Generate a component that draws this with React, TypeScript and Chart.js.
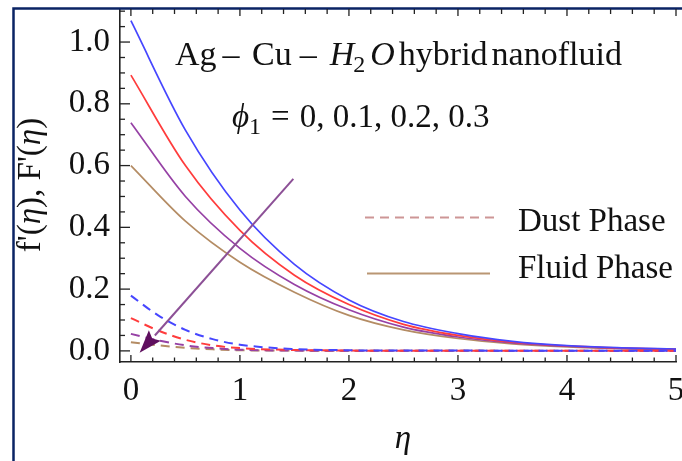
import React, { useEffect, useRef } from 'react';
import { Chart, registerables } from 'chart.js';

Chart.register(...registerables);

// ---- data ----
const etaFluid = [0, 0.5, 1, 1.5, 2, 2.5, 3, 3.5, 4, 4.5, 5];
const fluidPhi0 = [1.069, 0.715, 0.456, 0.28, 0.165, 0.095, 0.056, 0.031, 0.017, 0.01, 0.006];
const fluidPhi01 = [0.893, 0.6, 0.39, 0.245, 0.15, 0.086, 0.05, 0.028, 0.016, 0.009, 0.005];
const fluidPhi02 = [0.739, 0.5, 0.332, 0.215, 0.133, 0.077, 0.045, 0.026, 0.015, 0.008, 0.005];
const fluidPhi03 = [0.6, 0.42, 0.287, 0.19, 0.115, 0.068, 0.04, 0.023, 0.013, 0.007, 0.004];

const etaDust = [0, 0.25, 0.5, 0.75, 1, 1.5, 2, 2.5, 3, 3.5, 4, 4.5, 5];
const dustPhi0 = [0.179, 0.115, 0.068, 0.038, 0.02, 0.006, 0.002, 0.001, 0.001, 0.0005, 0.0003, 0.0002, 0.0001];
const dustPhi01 = [0.106, 0.066, 0.036, 0.018, 0.009, 0.003, 0.001, 0.0005, 0.0003, 0.0002, 0.0001, 0.0001, 0.0001];
const dustPhi02 = [0.055, 0.034, 0.018, 0.009, 0.004, 0.001, 0.0005, 0.0002, 0.0001, 0.0001, 0.0001, 0.0, 0.0];
const dustPhi03 = [0.028, 0.018, 0.01, 0.005, 0.002, 0.001, 0.0003, 0.0001, 0.0001, 0.0, 0.0, 0.0, 0.0];

const phiLabels = ['0', '0.1', '0.2', '0.3'];
const seriesColors = ['rgb(70,70,255)', 'rgb(255,60,60)', 'rgb(150,65,165)', 'rgb(180,140,100)'];

const xTicks = [0, 1, 2, 3, 4, 5];
const yTicks = [0, 0.2, 0.4, 0.6, 0.8, 1.0];

const arrowFrom = [1.49, 0.557];
const arrowTo = [0.08, -0.006];

const legendLabels = ['Dust Phase', 'Fluid Phase'];

const SERIF = '"Liberation Serif", "Times New Roman", serif';

type Seg = { t: string; italic?: boolean; size?: number; dy?: number; gap?: number };

function drawSegs(ctx: CanvasRenderingContext2D, segs: Seg[], x: number, y: number, base: number) {
  let cx = x;
  for (const s of segs) {
    ctx.font = `${s.italic ? 'italic ' : ''}${s.size ?? base}px ${SERIF}`;
    ctx.fillText(s.t, cx, y + (s.dy ?? 0));
    cx += ctx.measureText(s.t).width + (s.gap ?? 0);
  }
  return cx - x;
}

function measureSegs(ctx: CanvasRenderingContext2D, segs: Seg[], base: number) {
  let w = 0;
  for (const s of segs) {
    ctx.font = `${s.italic ? 'italic ' : ''}${s.size ?? base}px ${SERIF}`;
    w += ctx.measureText(s.t).width + (s.gap ?? 0);
  }
  return w;
}

const decor = {
  id: 'decor',
  afterDraw(chart: any) {
    const ctx: CanvasRenderingContext2D = chart.ctx;
    const xs = chart.scales.x;
    const ys = chart.scales.y;
    const { left, top, bottom } = chart.chartArea;
    ctx.save();

    // outer navy frame
    ctx.strokeStyle = 'rgb(10,35,100)';
    ctx.lineWidth = 2.5;
    ctx.beginPath();
    ctx.moveTo(13.5, 461);
    ctx.lineTo(13.5, 8.5);
    ctx.lineTo(682, 8.5);
    ctx.stroke();

    // inward ticks
    ctx.strokeStyle = '#222';
    ctx.lineWidth = 1.3;
    for (let i = 0; i <= 22; i++) {
      const y = ys.getPixelForValue(i * 0.05);
      const major = i % 4 === 0;
      ctx.beginPath();
      ctx.moveTo(left, y);
      ctx.lineTo(left + (major ? 10 : 5), y);
      ctx.stroke();
    }
    for (let i = 0; i <= 25; i++) {
      const x = xs.getPixelForValue(i * 0.2);
      const major = i % 5 === 0;
      ctx.beginPath();
      ctx.moveTo(x, bottom);
      ctx.lineTo(x, bottom - (major ? 7 : 4.5));
      ctx.moveTo(x, top);
      ctx.lineTo(x, top + (major ? 7 : 5));
      ctx.stroke();
    }

    // arrow
    const x1 = xs.getPixelForValue(arrowFrom[0]);
    const y1 = ys.getPixelForValue(arrowFrom[1]);
    const x2 = xs.getPixelForValue(arrowTo[0]);
    const y2 = ys.getPixelForValue(arrowTo[1]);
    const ang = Math.atan2(y2 - y1, x2 - x1);
    const hl = 23, hw = 8;
    const bx = x2 - hl * Math.cos(ang);
    const by = y2 - hl * Math.sin(ang);
    ctx.strokeStyle = 'rgb(140,80,150)';
    ctx.lineWidth = 2;
    ctx.beginPath();
    ctx.moveTo(x1, y1);
    ctx.lineTo(bx, by);
    ctx.stroke();
    ctx.fillStyle = 'rgb(95,15,95)';
    ctx.beginPath();
    ctx.moveTo(x2, y2);
    ctx.lineTo(bx + hw * Math.sin(ang), by - hw * Math.cos(ang));
    ctx.lineTo(bx + 4 * Math.cos(ang), by + 4 * Math.sin(ang));
    ctx.lineTo(bx - hw * Math.sin(ang), by + hw * Math.cos(ang));
    ctx.closePath();
    ctx.fill();

    // legend
    ctx.lineWidth = 2.2;
    ctx.strokeStyle = 'rgb(205,150,150)';
    ctx.setLineDash([9, 6]);
    ctx.beginPath();
    ctx.moveTo(365, 217.5);
    ctx.lineTo(497, 217.5);
    ctx.stroke();
    ctx.setLineDash([]);
    ctx.strokeStyle = 'rgb(185,150,115)';
    ctx.beginPath();
    ctx.moveTo(367, 273.5);
    ctx.lineTo(490, 273.5);
    ctx.stroke();

    ctx.fillStyle = '#111';
    ctx.textAlign = 'left';
    ctx.textBaseline = 'alphabetic';
    ctx.font = `33px ${SERIF}`;
    ctx.fillText(legendLabels[0], 518, 231);
    ctx.fillText(legendLabels[1], 518, 278);

    // annotation line 1
    drawSegs(
      ctx,
      [
        { t: 'Ag', gap: 6 },
        { t: '–', gap: 12.5 },
        { t: 'Cu', gap: 8 },
        { t: '–', gap: 13 },
        { t: 'H', italic: true, gap: -1 },
        { t: '2', size: 24, dy: 7, gap: 5 },
        { t: 'O', italic: true, gap: 4 },
        { t: 'hybrid', gap: 4 },
        { t: 'nanofluid' },
      ],
      175,
      65,
      34
    );
    // annotation line 2
    drawSegs(
      ctx,
      [
        { t: 'ϕ', italic: true },
        { t: '1', size: 24, dy: 7, gap: 10 },
        { t: '=', gap: 10 },
        { t: phiLabels.join(', ') },
      ],
      232,
      127,
      33
    );

    // x title
    ctx.font = `italic 33px ${SERIF}`;
    ctx.textAlign = 'center';
    ctx.fillText('η', 403, 448);

    // y title (rotated, mixed fonts)
    ctx.textAlign = 'left';
    const ySegs: Seg[] = [
      { t: "f'(" },
      { t: 'η', italic: true },
      { t: "), F'(" },
      { t: 'η', italic: true },
      { t: ')' },
    ];
    ctx.translate(40, 185);
    ctx.rotate(-Math.PI / 2);
    const w = measureSegs(ctx, ySegs, 33);
    drawSegs(ctx, ySegs, -w / 2, 0, 33);

    ctx.restore();
  },
};

function makeSet(xs: number[], ys: number[], color: string, dashed: boolean) {
  return {
    data: xs.map((x, i) => ({ x, y: ys[i] })),
    borderColor: color,
    backgroundColor: color,
    borderWidth: dashed ? 2 : 1.7,
    borderDash: dashed ? [9, 6] : [],
    pointRadius: 0,
    showLine: true,
    fill: false,
    cubicInterpolationMode: 'monotone' as const,
  };
}

export default function App() {
  const ref = useRef<HTMLCanvasElement | null>(null);

  useEffect(() => {
    if (!ref.current) return;
    const fluid = [fluidPhi0, fluidPhi01, fluidPhi02, fluidPhi03];
    const dust = [dustPhi0, dustPhi01, dustPhi02, dustPhi03];
    const datasets: any[] = [];
    dust.forEach((d, i) => datasets.push(makeSet(etaDust, d, seriesColors[i], true)));
    fluid.forEach((d, i) => datasets.push(makeSet(etaFluid, d, seriesColors[i], false)));

    const chart = new Chart(ref.current, {
      type: 'scatter',
      data: { datasets },
      options: {
        responsive: false,
        animation: false,
        layout: { padding: { top: 9, right: 6, left: 0, bottom: 0 } },
        plugins: { legend: { display: false }, tooltip: { enabled: false } },
        scales: {
          x: {
            type: 'linear',
            min: -0.1,
            max: 5,
            afterFit: (s: any) => {
              s.height = 99;
              s.paddingLeft = 0;
              s.paddingRight = 0;
            },
            afterBuildTicks: (s: any) => {
              s.ticks = xTicks.map((v) => ({ value: v }));
            },
            grid: { drawOnChartArea: false, drawTicks: false },
            border: { display: true, color: '#222', width: 1.6 },
            ticks: {
              padding: 10,
              color: '#111',
              font: { family: SERIF, size: 33 },
              callback: (v: any) => String(v),
              maxRotation: 0,
              autoSkip: false,
            },
          },
          y: {
            type: 'linear',
            min: -0.036,
            max: 1.107,
            afterFit: (s: any) => {
              s.width = 120;
              s.paddingTop = 0;
              s.paddingBottom = 0;
            },
            afterBuildTicks: (s: any) => {
              s.ticks = yTicks.map((v) => ({ value: v }));
            },
            grid: { drawOnChartArea: false, drawTicks: false },
            border: { display: true, color: '#222', width: 1.6 },
            ticks: {
              padding: 10,
              color: '#111',
              font: { family: SERIF, size: 33 },
              callback: (v: any) => Number(v).toFixed(1),
              autoSkip: false,
            },
          },
        },
      },
      plugins: [decor],
    });
    return () => chart.destroy();
  }, []);

  return (
    <div style={{ position: 'fixed', left: 0, top: 0, width: 682, height: 461, background: '#fff' }}>
      <canvas ref={ref} width={682} height={461} style={{ display: 'block' }} />
    </div>
  );
}
